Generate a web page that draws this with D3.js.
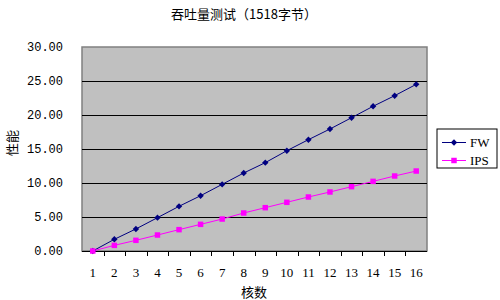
<!DOCTYPE html>
<html>
<head>
<meta charset="utf-8">
<script src="https://cdn.jsdelivr.net/npm/d3@7"></script>
<style>
  body { margin: 0; background: #fff; }
  text { font-family: "Noto Sans CJK SC", sans-serif; }
</style>
</head>
<body>
<div id="chart"></div>
<script>
var cores = ['1','2','3','4','5','6','7','8','9','10','11','12','13','14','15','16'];
var fwValues  = [0, 1.72, 3.24, 4.90, 6.57, 8.13, 9.80, 11.47, 12.99, 14.75, 16.37, 17.94, 19.60, 21.28, 22.84, 24.51];
var ipsValues = [0, 0.83, 1.57, 2.35, 3.14, 3.92, 4.70, 5.59, 6.37, 7.16, 7.94, 8.68, 9.46, 10.24, 11.03, 11.76];
var yTicks = [0, 5, 10, 15, 20, 25, 30];

var margin = { left: 82, right: 73, top: 47, bottom: 49 };
var width = 500 - margin.left - margin.right,
    height = 300 - margin.top - margin.bottom;

var svg = d3.select('#chart')
    .append('svg')
    .attr('width', 500)
    .attr('height', 300);

var g = svg.append('g')
    .attr('transform', 'translate(' + margin.left + ',' + margin.top + ')');

var x = d3.scaleBand()
    .domain(cores)
    .range([0, width]);

var y = d3.scaleLinear()
    .domain([0, 30])
    .range([height, 0]);

// plot background
g.append('rect')
    .attr('width', width)
    .attr('height', height)
    .attr('fill', '#c0c0c0')
    .attr('stroke', '#808080')
    .attr('stroke-width', 1.5);

// gridlines
g.selectAll('.grid')
    .data(yTicks.filter(function (d) { return d > 0 && d < 30; }))
    .enter()
    .append('line')
    .attr('x1', 0)
    .attr('x2', width)
    .attr('y1', function (d) { return Math.round(y(d)) + 0.5; })
    .attr('y2', function (d) { return Math.round(y(d)) + 0.5; })
    .attr('stroke', '#000')
    .attr('stroke-width', 1);

// y axis labels
g.selectAll('.ylab')
    .data(yTicks)
    .enter()
    .append('text')
    .attr('x', -19)
    .attr('y', function (d) { return y(d); })
    .attr('dy', '0.35em')
    .attr('text-anchor', 'end')
    .attr('font-size', '12px')
    .style('font-family', '"Liberation Mono", monospace')
    .attr('fill', '#000')
    .text(function (d) { return d.toFixed(2); });

// x axis
var xAxis = g.append('g')
    .attr('transform', 'translate(0,' + height + ')');
xAxis.append('line')
    .attr('x1', 0).attr('x2', width)
    .attr('y1', 0.5).attr('y2', 0.5)
    .attr('stroke', '#000');
xAxis.selectAll('.tick')
    .data(cores.slice(1))
    .enter()
    .append('line')
    .attr('x1', function (d) { return Math.round(x(d)) + 0.5; })
    .attr('x2', function (d) { return Math.round(x(d)) + 0.5; })
    .attr('y1', 0)
    .attr('y2', 5)
    .attr('stroke', '#000');
xAxis.selectAll('.xlab')
    .data(cores)
    .enter()
    .append('text')
    .attr('x', function (d) { return x(d) + x.bandwidth() / 2; })
    .attr('y', 21)
    .attr('dy', '0.35em')
    .attr('text-anchor', 'middle')
    .attr('font-size', '13px')
    .style('font-family', '"Liberation Serif", serif')
    .attr('fill', '#000')
    .text(function (d) { return d; });

// lines
var line = d3.line()
    .x(function (d, i) { return x(cores[i]) + x.bandwidth() / 2; })
    .y(function (d) { return y(d); });

g.append('path')
    .datum(fwValues)
    .attr('fill', 'none')
    .attr('stroke', '#000080')
    .attr('stroke-width', 1)
    .attr('d', line);

g.append('path')
    .datum(ipsValues)
    .attr('fill', 'none')
    .attr('stroke', '#ff00ff')
    .attr('stroke-width', 1)
    .attr('d', line);

var diamond = d3.symbol().type(d3.symbolDiamond2).size(26);
var square = d3.symbol().type(d3.symbolSquare).size(30);

g.selectAll('.fw')
    .data(fwValues)
    .enter()
    .append('path')
    .attr('d', diamond)
    .attr('transform', function (d, i) {
        return 'translate(' + (x(cores[i]) + x.bandwidth() / 2) + ',' + y(d) + ')';
    })
    .attr('fill', '#000080');

g.selectAll('.ips')
    .data(ipsValues)
    .enter()
    .append('path')
    .attr('d', square)
    .attr('transform', function (d, i) {
        return 'translate(' + (x(cores[i]) + x.bandwidth() / 2) + ',' + y(d) + ')';
    })
    .attr('fill', '#ff00ff');

// title
svg.append('text')
    .attr('x', 244)
    .attr('y', 14)
    .attr('dy', '0.35em')
    .attr('text-anchor', 'middle')
    .attr('font-size', '13px')
    .attr('fill', '#000')
    .text('吞吐量测试（1518字节）');

// axis titles
svg.append('text')
    .attr('x', 254)
    .attr('y', 292)
    .attr('dy', '0.35em')
    .attr('text-anchor', 'middle')
    .attr('font-size', '13px')
    .attr('fill', '#000')
    .text('核数');

svg.append('text')
    .attr('transform', 'translate(12,143) rotate(-90)')
    .attr('dy', '0.35em')
    .attr('text-anchor', 'middle')
    .attr('font-size', '13px')
    .attr('fill', '#000')
    .text('性能');

// legend
var legend = svg.append('g')
    .attr('transform', 'translate(437,129)');
legend.append('rect')
    .attr('width', 60)
    .attr('height', 39)
    .attr('fill', '#fff')
    .attr('stroke', '#000');

var legendItems = [
    { name: 'FW', color: '#000080', sym: diamond, y: 13 },
    { name: 'IPS', color: '#ff00ff', sym: square, y: 31 }
];
var li = legend.selectAll('.li')
    .data(legendItems)
    .enter()
    .append('g')
    .attr('transform', function (d) { return 'translate(0,' + d.y + ')'; });
li.append('line')
    .attr('x1', 5).attr('x2', 29)
    .attr('y1', 0.5).attr('y2', 0.5)
    .attr('stroke', function (d) { return d.color; });
li.append('path')
    .attr('d', function (d) { return d.sym(); })
    .attr('transform', 'translate(17,0.5)')
    .attr('fill', function (d) { return d.color; });
li.append('text')
    .attr('x', 33)
    .attr('y', 0)
    .attr('dy', '0.35em')
    .attr('font-size', '13px')
    .style('font-family', '"Liberation Serif", serif')
    .attr('fill', '#000')
    .text(function (d) { return d.name; });
</script>
</body>
</html>
